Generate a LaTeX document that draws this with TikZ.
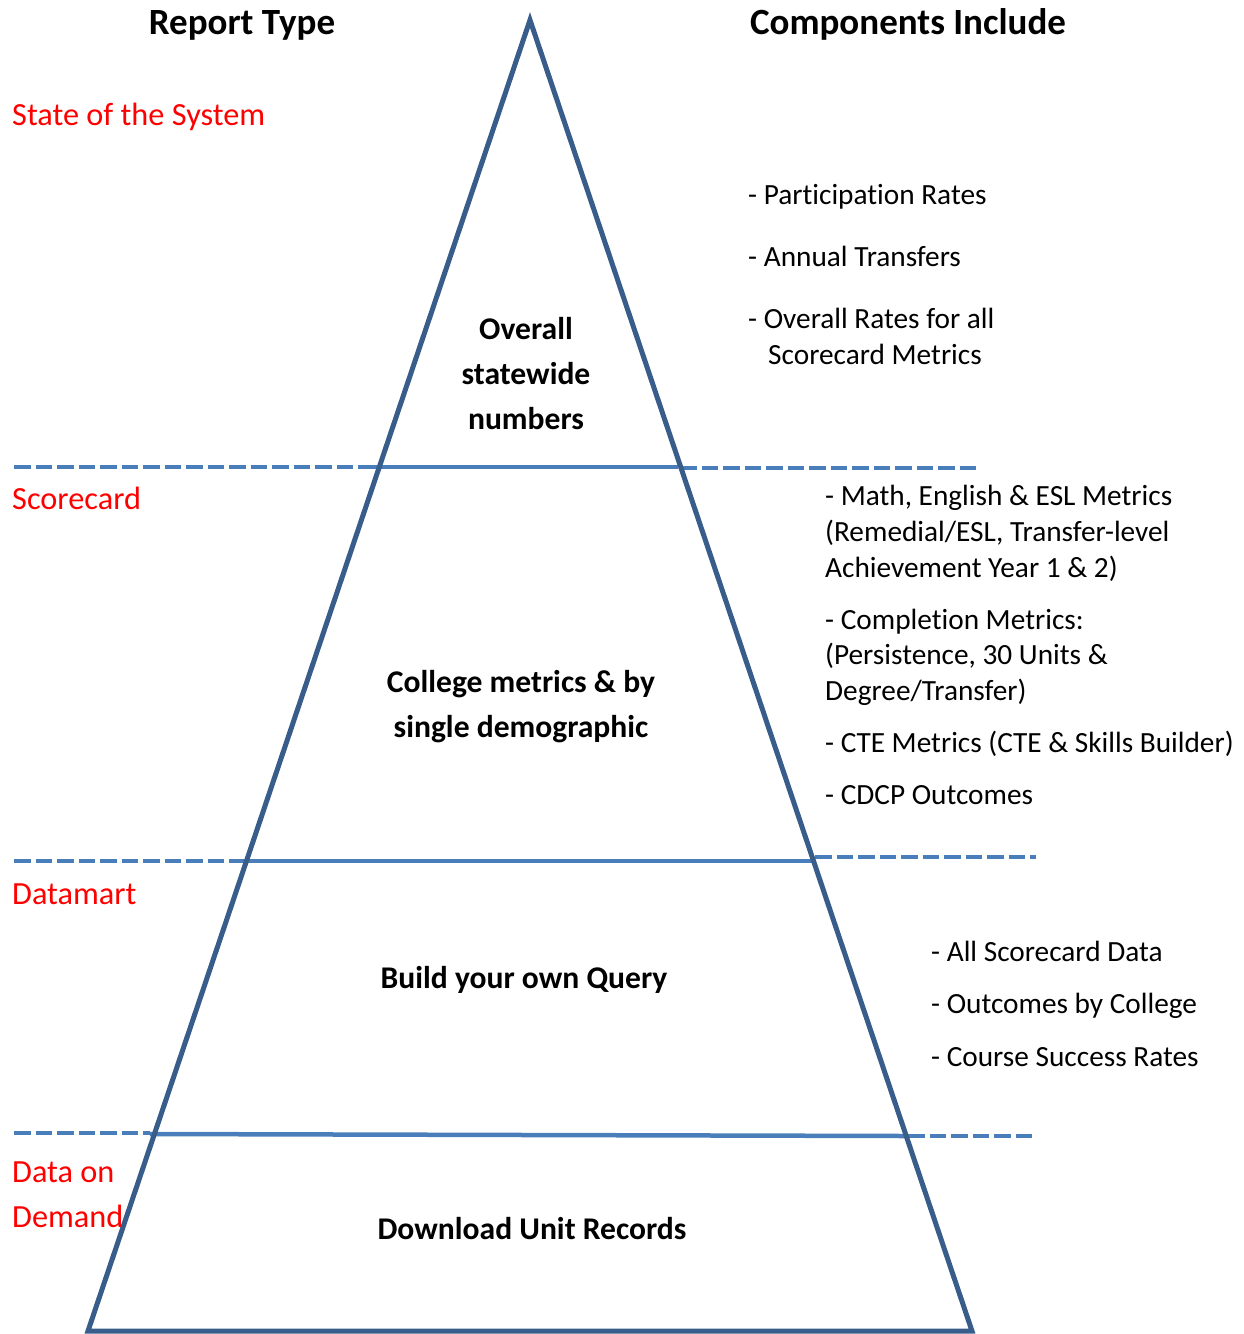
\documentclass[tikz,border=0pt]{standalone}
\usepackage{fontspec}
\setmainfont{Carlito}[RawFeature={-liga;-clig;-calt;-rlig;-dlig}]
\definecolor{triblue}{RGB}{56,93,138}
\definecolor{lineblue}{RGB}{74,126,187}
\definecolor{redtxt}{RGB}{255,0,0}
\tikzset{
  tri/.style={draw=triblue, line width=5pt, line join=miter},
  solidsep/.style={draw=lineblue, line width=4.5pt},
  dashsep/.style={draw=lineblue, line width=4.5pt, dash pattern=on 16.5pt off 5pt},
  heading/.style={anchor=base, inner sep=0pt, font=\fontsize{37}{44}\selectfont\bfseries},
  levellabel/.style={anchor=base, inner sep=0pt, font=\fontsize{31.6}{45}\selectfont\bfseries},
  reptype/.style={anchor=base west, inner sep=0pt, text=redtxt, font=\fontsize{32.3}{45}\selectfont},
  comp/.style={anchor=base west, inner sep=0pt, font=\fontsize{29.3}{36}\selectfont},
}
\begin{document}
\begin{tikzpicture}[x=1pt,y=-1pt]
\useasboundingbox (0,0) rectangle (1244,1334);
% separator lines
\coordinate (a1) at (14,467);  \coordinate (a2) at (392,467);
\coordinate (a3) at (368,467); \coordinate (a4) at (678,467);
\coordinate (a5) at (680,468); \coordinate (a6) at (977,468);
\coordinate (b1) at (14,861);  \coordinate (b2) at (245,861);
\coordinate (b3) at (245,861); \coordinate (b4) at (812,861);
\coordinate (b5) at (815,857); \coordinate (b6) at (1036,857);
\coordinate (c1) at (14,1133); \coordinate (c2) at (150,1133);
\coordinate (c3) at (150,1134); \coordinate (c4) at (905,1136);
\coordinate (c5) at (908,1136); \coordinate (c6) at (1033,1136);
\draw[dashsep] (a1) -- (a2);
\draw[solidsep] (a3) -- (a4);
\draw[dashsep] (a5) -- (a6);
\draw[dashsep] (b1) -- (b2);
\draw[solidsep] (b3) -- (b4);
\draw[dashsep] (b5) -- (b6);
\draw[dashsep] (c1) -- (c2);
\draw[solidsep] (c3) -- (c4);
\draw[dashsep] (c5) -- (c6);
% pyramid
\coordinate (apex) at (530,20);
\coordinate (bl) at (88,1331);
\coordinate (br) at (972,1331);
\draw[tri] (apex) -- (bl) -- (br) -- cycle;
% headings
\node[heading] (h1) at (242,34) {Report Type};
\node[heading] (h2) at (908,34) {Components Include};
% level labels
\node[levellabel] (o1) at (526,339) {Overall};
\node[levellabel] (o2) at (526,384) {statewide};
\node[levellabel] (o3) at (526,429) {numbers};
\node[levellabel] (m1) at (521,692) {College metrics \& by};
\node[levellabel] (m2) at (521,737) {single demographic};
\node[levellabel] (q1) at (524,988) {Build your own Query};
\node[levellabel] (d1) at (532,1239) {Download Unit Records};
% report types
\node[reptype] (r1) at (12,125) {State of the System};
\node[reptype] (r2) at (12,509) {Scorecard};
\node[reptype] (r3) at (12,904) {Datamart};
\node[reptype] (r4) at (12,1182) {Data on};
\node[reptype] (r5) at (12,1227) {Demand};
% components
\node[comp] (s1) at (748,204) {- Participation Rates};
\node[comp] (s2) at (748,266) {- Annual Transfers};
\node[comp] (s3) at (748,328) {- Overall Rates for all};
\node[comp] (s4) at (768,364) {Scorecard Metrics};
\node[comp] (k1) at (825,505) {- Math, English \& ESL Metrics};
\node[comp] (k2) at (825,541) {(Remedial/ESL, Transfer-level};
\node[comp] (k3) at (825,577) {Achievement Year 1 \& 2)};
\node[comp] (k4) at (825,629) {- Completion Metrics:};
\node[comp] (k5) at (825,664) {(Persistence, 30 Units \&};
\node[comp] (k6) at (825,700) {Degree/Transfer)};
\node[comp] (k7) at (825,752) {- CTE Metrics (CTE \& Skills Builder)};
\node[comp] (k8) at (825,804) {- CDCP Outcomes};
\node[comp] (t1) at (931,961) {- All Scorecard Data};
\node[comp] (t2) at (931,1013) {- Outcomes by College};
\node[comp] (t3) at (931,1066) {- Course Success Rates};
\end{tikzpicture}
\end{document}
